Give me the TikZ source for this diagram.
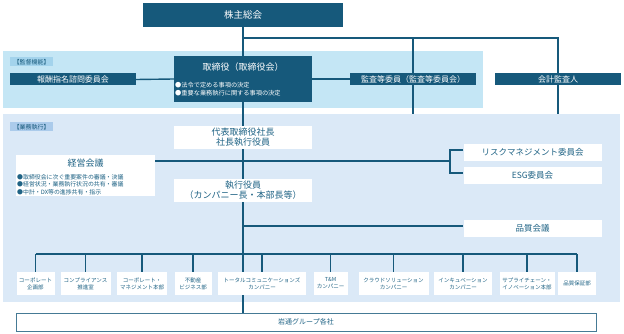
\documentclass[tikz,border=0pt]{standalone}
\usepackage{fontspec}
\setmainfont{Noto Sans CJK JP}
\definecolor{dk}{HTML}{16597B}
\definecolor{txt}{HTML}{1F6385}
\definecolor{bandA}{HTML}{C4E6F5}
\definecolor{bandB}{HTML}{DBE9F7}
\definecolor{tagA}{HTML}{A3D3EC}
\definecolor{tagB}{HTML}{ABCBEB}
\pgfdeclarelayer{bglayer}
\pgfdeclarelayer{midlayer}
\pgfsetlayers{bglayer,midlayer,main}
\tikzset{
  dkbox/.style={fill=dk, draw=none, text=white, inner sep=0pt, align=center},
  wbox/.style={fill=white, draw=none, text=txt, inner sep=0pt, align=center},
  band/.style={draw=none, inner sep=0pt},
  tag/.style={text=dk, inner sep=0pt, minimum width=43pt, minimum height=9pt, font=\fontsize{6}{6.5}\selectfont},
  conn/.style={draw=dk, line width=1.4pt},
  small/.style={font=\fontsize{5.5}{7}\selectfont},
  bul/.style={anchor=west, inner sep=0pt, align=left, font=\fontsize{6.2}{7.6}\selectfont},
}
\begin{document}
\begin{tikzpicture}[x=1pt,y=-1pt]
\useasboundingbox (0,0) rectangle (624,334);
\begin{pgfonlayer}{bglayer}
\fill[white] (0,0) rectangle (624,334);
\node[band, fill=bandA, minimum width=480pt, minimum height=57pt] (bA) at (243,79.5) {};
\node[band, fill=bandB, minimum width=617pt, minimum height=188pt] (bB) at (311.5,208) {};
\end{pgfonlayer}
\node[tag, fill=tagA] (tA) at (31.5,62) {【監督機能】};
\node[tag, fill=tagB] (tB) at (31.5,127) {【業務執行】};
\coordinate (j) at (243,38);
\coordinate (br) at (450,161);
\coordinate (bus) at (243,254);
% boxes
\node[dkbox, minimum width=200pt, minimum height=24pt, font=\fontsize{9.5}{11}\selectfont] (sh) at (243,15) {株主総会};
\node[dkbox, minimum width=126pt, minimum height=12pt, font=\fontsize{8}{9}\selectfont] (hoshu) at (73,79.5) {報酬指名諮問委員会};
\node[dkbox, minimum width=138pt, minimum height=46pt] (tori) at (243,79) {};
\node[text=white, font=\fontsize{9}{10}\selectfont, inner sep=0pt] (toriT) at (243,67) {取締役（取締役会）};
\node[bul, text=white] (toriB) at (175,89) {●法令で定める事項の決定\\●重要な業務執行に関する事項の決定};
\node[dkbox, minimum width=126pt, minimum height=12pt, font=\fontsize{8}{9}\selectfont] (kansa) at (413,79) {監査等委員（監査等委員会）};
\node[dkbox, minimum width=126pt, minimum height=12pt, font=\fontsize{8}{9}\selectfont] (kaikei) at (558,79) {会計監査人};
\node[wbox, minimum width=138pt, minimum height=23pt, font=\fontsize{9}{10}\selectfont] (daihyo) at (243,137.5) {代表取締役社長\\社長執行役員};
\node[wbox, minimum width=139pt, minimum height=41pt] (keiei) at (85.5,175.5) {};
\node[text=txt, font=\fontsize{9}{10}\selectfont, inner sep=0pt] (keieiT) at (85.5,163) {経営会議};
\node[bul, text=txt, font=\fontsize{5.9}{7.5}\selectfont] (keieiB) at (17,184.5) {●取締役会に次ぐ重要案件の審議・決議\\●経営状況・業務執行状況の共有・審議\\●中計・DX等の進捗共有・指示};
\node[wbox, minimum width=138pt, minimum height=17pt, font=\fontsize{8.5}{10}\selectfont] (risk) at (532.5,152.5) {リスクマネジメント委員会};
\node[wbox, minimum width=138pt, minimum height=17pt, font=\fontsize{8.5}{10}\selectfont] (esg) at (532.5,175.5) {ESG委員会};
\node[wbox, minimum width=138pt, minimum height=23pt, font=\fontsize{9}{10}\selectfont] (shikko) at (243,190.5) {執行役員\\（カンパニー長・本部長等）};
\node[wbox, minimum width=138pt, minimum height=17pt, font=\fontsize{8.5}{10}\selectfont] (hin) at (532.5,228.5) {品質会議};
\node[wbox, small, minimum width=38pt, minimum height=23pt] (b1) at (35.5,283.5) {コーポレート\\企画部};
\node[wbox, small, minimum width=50pt, minimum height=23pt] (b2) at (85.5,283.5) {コンプライアンス\\推進室};
\node[wbox, small, minimum width=50pt, minimum height=23pt] (b3) at (142,283.5) {コーポレート・\\マネジメント本部};
\node[wbox, small, minimum width=37pt, minimum height=23pt] (b4) at (193,283.5) {不動産\\ビジネス部};
\node[wbox, small, minimum width=88pt, minimum height=23pt] (b5) at (262,283.5) {トータルコミュニケーションズ\\カンパニー};
\node[wbox, small, minimum width=34pt, minimum height=23pt] (b6) at (330.5,283.5) {T\&M\\カンパニー};
\node[wbox, small, minimum width=70pt, minimum height=23pt] (b7) at (393.5,283.5) {クラウドソリューション\\カンパニー};
\node[wbox, small, minimum width=58pt, minimum height=23pt] (b8) at (463,283.5) {インキュベーション\\カンパニー};
\node[wbox, small, minimum width=55pt, minimum height=23pt] (b9) at (527,283.5) {サプライチェーン・\\イノベーション本部};
\node[wbox, small, minimum width=38pt, minimum height=23pt] (b10) at (577,283.5) {品質保証部};
\node[wbox, draw=dk!80, line width=0.8pt, minimum width=580pt, minimum height=18pt, font=\fontsize{7}{8}\selectfont] (gr) at (306,322) {岩通グループ各社};
\coordinate (r1) at ([yshift=2.5pt]risk.west);
\coordinate (e1) at ([yshift=2.5pt]esg.west);
\coordinate (h1) at ([yshift=2.5pt]hin.west);
\coordinate (k1) at ([yshift=14.5pt]keiei.east);
% connectors (behind boxes)
\begin{pgfonlayer}{midlayer}
\draw[conn] (sh.south) -- (gr.north -| sh);
\draw[conn] (j) -| (kaikei.center |- bB.north);
\draw[conn] (kansa.center |- j) -- (kansa.center |- bB.north);
\draw[conn] (hoshu.east) -- (tori.west);
\draw[conn] (tori.east) -- (kansa.west);
\draw[conn] (k1) -- (br);
\draw[conn] (r1) -| (br |- e1) -- (e1);
\draw[conn] (h1 -| sh) -- (h1);
\draw[conn] (b1.north |- bus) -- (b10.north |- bus);
\foreach \b in {b1,b2,b3,b4,b5,b6,b7,b8,b9,b10}
  \draw[conn] (\b.north |- bus) -- (\b.north);
\end{pgfonlayer}
\end{tikzpicture}
\end{document}
